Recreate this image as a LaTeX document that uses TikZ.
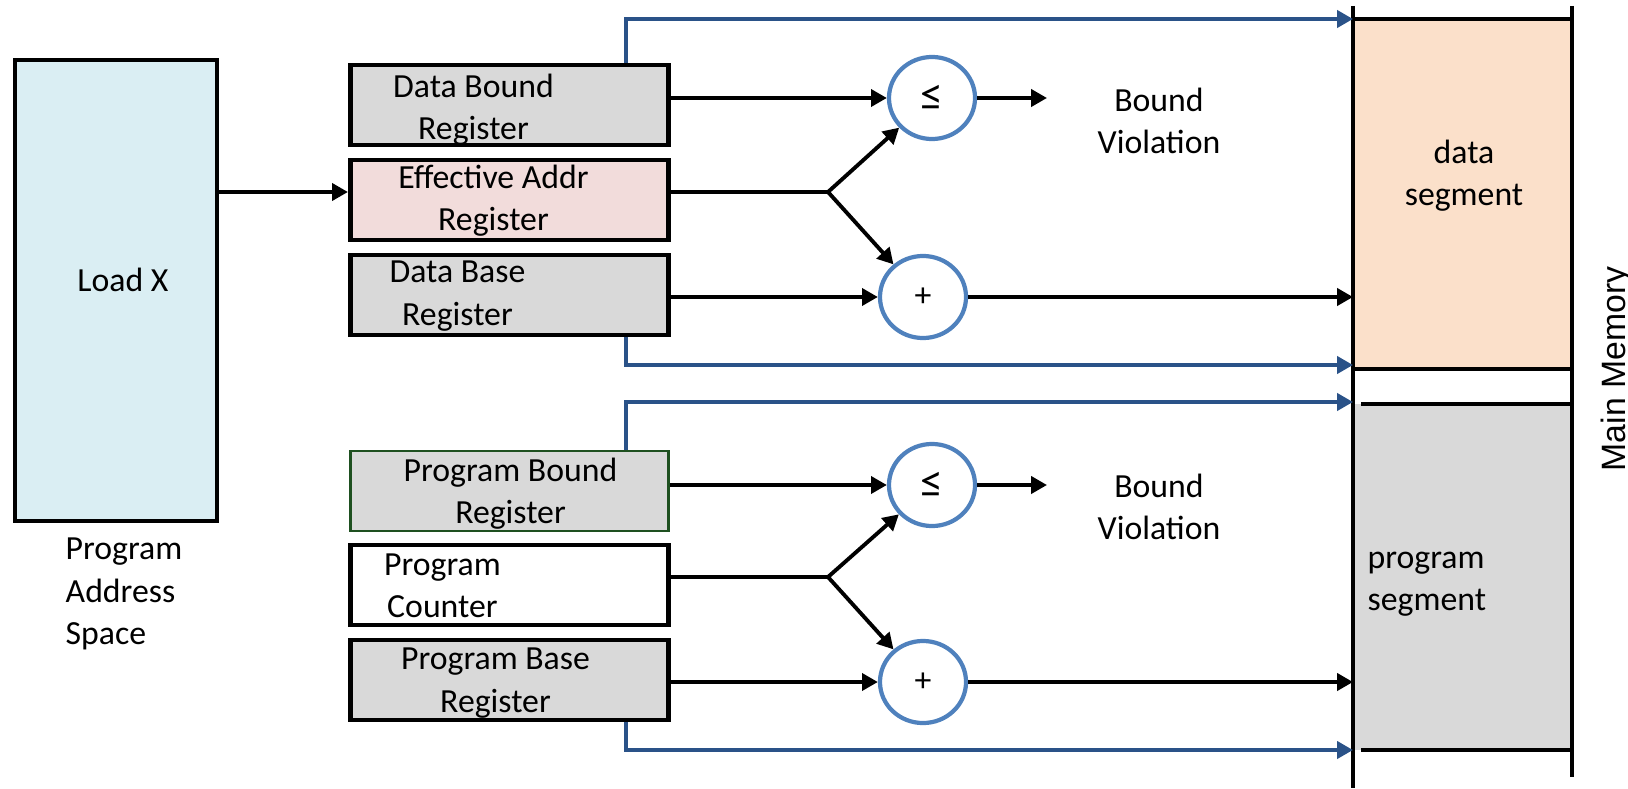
\documentclass[tikz,border=0pt]{standalone}
\usepackage{fontspec}
\setmainfont{Carlito}
\newfontfamily\memfont{Liberation Sans}
\usetikzlibrary{arrows.meta,shapes.geometric}
\definecolor{loadblue}{HTML}{DAEEF3}
\definecolor{reggray}{HTML}{D9D9D9}
\definecolor{effpink}{HTML}{F2DCDB}
\definecolor{segpeach}{HTML}{FBE0CA}
\definecolor{busblue}{HTML}{2A5288}
\definecolor{ringblue}{HTML}{4F81BD}
\definecolor{pgreen}{HTML}{1E5020}

\begin{document}
\begin{tikzpicture}[x=0.01cm,y=-0.01cm,font=\fontsize{9.6}{12}\selectfont,
  reg/.style={draw,line width=1.4pt,fill=reggray,minimum width=3.18cm,minimum height=0.8cm},
  txt/.style={align=center,inner sep=0pt},
  op/.style={ellipse,draw=ringblue,line width=1.2pt,minimum width=0.86cm,minimum height=0.82cm,inner sep=0pt},
  wire/.style={line width=1.1pt,-{Triangle[length=4.5pt,width=4.8pt]}},
  bus/.style={draw=busblue,line width=1.1pt,-{Triangle[length=4.5pt,width=4.8pt]}}]
\useasboundingbox (0,0) rectangle (1628,788);

% program address space
\node [draw,line width=1.2pt,fill=loadblue,minimum width=2.02cm,minimum height=4.61cm,
  label={[xshift=0.07cm,yshift=0.11cm]center:Load X}] (lx) at (116,290.5) {};
\node [align=left,anchor=west,inner sep=0pt] (pas) at (65,594) {Program\\Address\\Space};

% registers
\node [reg,label={[txt,xshift=-0.36cm,yshift=-0.05cm]center:Data Bound\\Register}] (dbr) at (509.5,105) {};
\node [reg,fill=effpink,label={[txt,xshift=-0.16cm,yshift=-0.01cm]center:Effective Addr\\Register}] (ear) at (509.5,200) {};
\node [reg,label={[txt,xshift=-0.52cm,yshift=-0.01cm]center:Data Base\\Register}] (dba) at (509.5,295) {};
\node [reg,draw=pgreen,line width=0.8pt,label={[txt,xshift=0.01cm,yshift=-0.03cm]center:Program Bound\\Register}] (pbr) at (509.5,491) {};
\node [reg,fill=white,label={[txt,xshift=-0.67cm,yshift=-0.01cm]center:Program\\Counter}] (pc) at (509.5,585) {};
\node [reg,label={[txt,xshift=-0.14cm,yshift=-0.03cm]center:Program Base\\Register}] (pba) at (509.5,680) {};

% comparators and adders
\node [op,font=\fontsize{13}{13}\selectfont] (le1) at (932,98) {≤};
\node [op] (ad1) at (923,297) {+};
\node [op,font=\fontsize{13}{13}\selectfont] (le2) at (932,485) {≤};
\node [op] (ad2) at (923,682) {+};
\node [txt] (bv1) at (1159,121) {Bound\\Violation};
\node [txt] (bv2) at (1159,507) {Bound\\Violation};

\coordinate (br1) at (828,192);
\coordinate (br2) at (828,577);
\coordinate (out1) at (1047,98);
\coordinate (out2) at (1047,485);

% main memory
\coordinate (m1) at (1353,6);
\coordinate (m2) at (1353,788);
\coordinate (m3) at (1572,6);
\coordinate (m4) at (1572,777);
\fill [segpeach] (1353,19) rectangle (1572,369);
\fill [reggray] (1353,404) rectangle (1572,750);
\draw [line width=1.4pt] (m1) -- (m2);
\draw [line width=1.4pt] (m3) -- (m4);
\draw [line width=1.4pt] (1353,19) -- (1572,19);
\draw [line width=1.4pt] (1353,369) -- (1572,369);
\draw [line width=1.4pt] (1361,404) -- (1572,404);
\draw [line width=1.4pt] (1361,750) -- (1572,750);
\node [txt] (dtx) at (1464,176) {data\\segment};
\node [align=left,anchor=west,inner sep=0pt] (ptx) at (1367,584) {program\\segment};
\node [rotate=90,font=\memfont\fontsize{9.6}{10}\selectfont] (mm) at (1617,369) {Main Memory};

\coordinate (d1) at (1353,19);
\coordinate (d2) at (1353,365);
\coordinate (p1) at (1353,402);
\coordinate (p2) at (1353,750);

% data side
\draw [wire] (lx.east |- br1) -- (ear.west |- br1);
\draw [wire] (dbr.east |- le1) -- (le1);
\draw [wire] (le1) -- (out1);
\draw [line width=1.1pt] (ear.east |- br1) -- (br1);
\draw [wire] (br1) -- (le1);
\draw [wire] (br1) -- (ad1);
\draw [wire] (dba.east |- ad1) -- (ad1);
\draw [wire] (ad1) -- (ad1 -| m1);
\draw [bus] ([xshift=1.165cm]dbr.north) |- (d1);
\draw [bus] ([xshift=1.165cm]dba.south) |- (d2);

% program side
\draw [wire] (pbr.east |- le2) -- (le2);
\draw [wire] (le2) -- (out2);
\draw [line width=1.1pt] (pc.east |- br2) -- (br2);
\draw [wire] (br2) -- (le2);
\draw [wire] (br2) -- (ad2);
\draw [wire] (pba.east |- ad2) -- (ad2);
\draw [wire] (ad2) -- (ad2 -| m1);
\draw [bus] ([xshift=1.165cm]pbr.north) |- (p1);
\draw [bus] ([xshift=1.165cm]pba.south) |- (p2);
\end{tikzpicture}
\end{document}
